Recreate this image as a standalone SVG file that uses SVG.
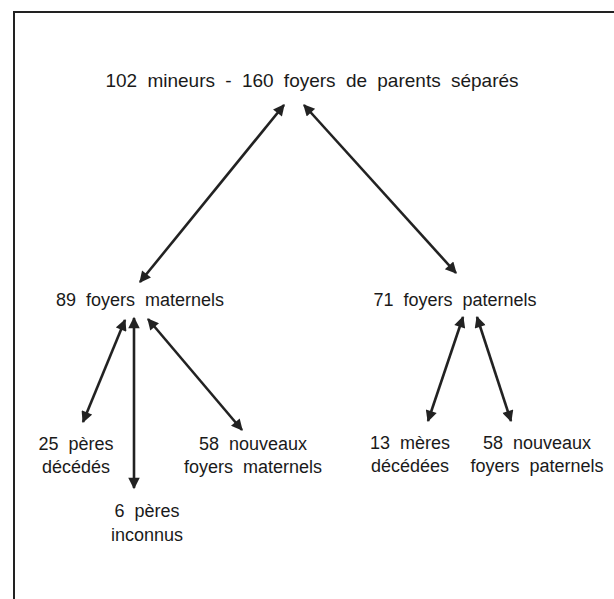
<svg xmlns="http://www.w3.org/2000/svg" width="614" height="599" viewBox="0 0 614 599">
<style>
.t{font-family:"Liberation Sans",Arial,sans-serif;font-size:18px;fill:#1a1a1a;word-spacing:5px;text-anchor:middle}
.c{stroke:#222;stroke-width:2.6;fill:none;marker-start:url(#ah);marker-end:url(#ah)}
.f{stroke:#222;stroke-width:2;fill:none}
</style>
<defs>
<marker id="ah" viewBox="0 0 10 10" refX="9" refY="5" markerWidth="5" markerHeight="4.4" markerUnits="strokeWidth" orient="auto-start-reverse">
<path d="M0,0 L10,5 L0,10 z" fill="#222"/>
</marker>
</defs>
<rect width="614" height="599" fill="#fff"/>
<g id="frame">
<line class="f" x1="14" y1="12" x2="614" y2="12"/>
<line class="f" x1="14" y1="11" x2="14" y2="599"/>
</g>
<g id="connectors">
<line class="c" x1="284" y1="105" x2="140" y2="282"/>
<line class="c" x1="304" y1="105" x2="456" y2="273"/>
<line class="c" x1="125" y1="320" x2="83" y2="422"/>
<line class="c" x1="134" y1="318" x2="134" y2="488"/>
<line class="c" x1="148" y1="319" x2="242" y2="430"/>
<line class="c" x1="463" y1="317" x2="428" y2="421"/>
<line class="c" x1="477" y1="317" x2="511" y2="421"/>
</g>
<g id="root"><text class="t" x="312" y="87" style="font-size:19px">102 mineurs - 160 foyers de parents séparés</text></g>
<g id="maternels"><text class="t" x="140" y="306">89 foyers maternels</text></g>
<g id="paternels"><text class="t" x="455" y="306">71 foyers paternels</text></g>
<g id="peres-decedes"><text class="t" x="76" y="450">25 pères</text><text class="t" x="76" y="473">décédés</text></g>
<g id="peres-inconnus"><text class="t" x="147" y="517">6 pères</text><text class="t" x="147" y="541">inconnus</text></g>
<g id="nouveaux-maternels"><text class="t" x="253" y="450">58 nouveaux</text><text class="t" x="253" y="473">foyers maternels</text></g>
<g id="meres-decedees"><text class="t" x="410" y="449">13 mères</text><text class="t" x="410" y="472">décédées</text></g>
<g id="nouveaux-paternels"><text class="t" x="537" y="449">58 nouveaux</text><text class="t" x="537" y="472">foyers paternels</text></g>
</svg>
